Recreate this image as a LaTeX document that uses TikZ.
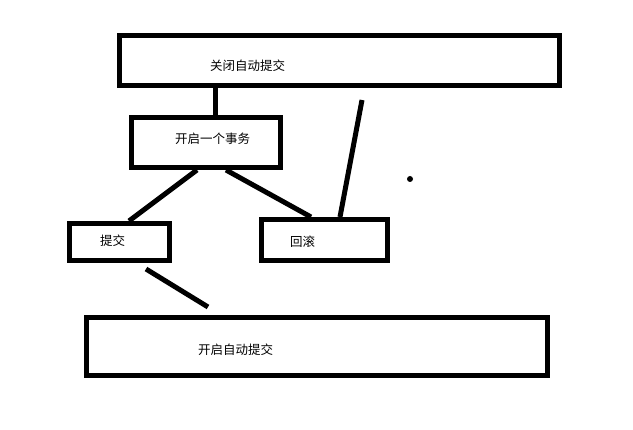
\documentclass[tikz,border=0pt]{standalone}
\usepackage{fontspec}
\newfontfamily\cjk{Noto Sans CJK SC}

\begin{document}
\begin{tikzpicture}[x=1pt,y=-1pt,
    box/.style={draw, black, line width=5pt, inner sep=0pt},
    txt/.style={anchor=west, inner sep=0pt, font=\cjk\fontsize{12.5}{14}\selectfont},
    edge/.style={black, line width=5pt}]
  \useasboundingbox (0,0) rectangle (633,430);
  % boxes
  \node [box, minimum width=440pt, minimum height=50.5pt] (off)      at (339.5,60.75) {};
  \node [box, minimum width=149pt, minimum height=50pt]   (txn)      at (206,142.5)   {};
  \node [box, minimum width=100pt, minimum height=37pt]   (commit)   at (119.5,242)   {};
  \node [box, minimum width=126pt, minimum height=41pt]   (rollback) at (324.5,240)   {};
  \node [box, minimum width=461pt, minimum height=58pt]   (on)       at (317,346.5)   {};
  % labels
  \node [txt] (offtxt)      at (210,66)  {关闭自动提交};
  \node [txt] (txntxt)      at (175,139) {开启一个事务};
  \node [txt] (committxt)   at (100,241) {提交};
  \node [txt] (rollbacktxt) at (290,242) {回滚};
  \node [txt] (ontxt)       at (198,350) {开启自动提交};
  % connectors
  \coordinate (tip)  at (362,100);
  \coordinate (cmtend) at (146,269);
  \coordinate (onend)  at (208,307);
  \draw [edge] (off.south -| 215,0) -- (txn.north -| 215,0);
  \draw [edge] (tip) -- (rollback.north -| 340,0);
  \draw [edge] (txn.south -| 197,0) -- (commit.north -| 129,0);
  \draw [edge] (txn.south -| 226,0) -- (rollback.north -| 311,0);
  \draw [edge] (cmtend) -- (onend);
  \fill [black] (410,179) circle (3);
\end{tikzpicture}
\end{document}
